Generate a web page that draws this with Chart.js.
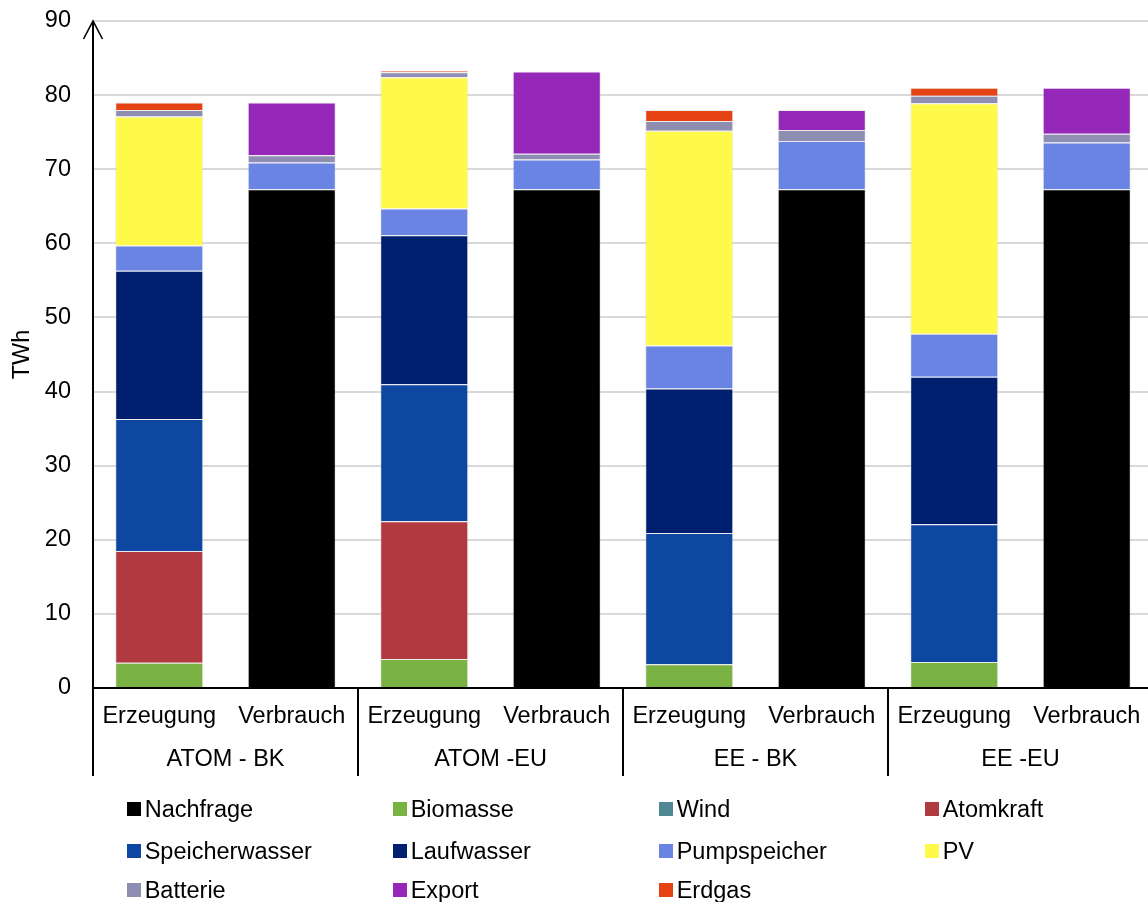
<!DOCTYPE html>
<html>
<head>
<meta charset="utf-8">
<script src="https://cdn.jsdelivr.net/npm/chart.js@4/dist/chart.umd.min.js"></script>
<style>
  html, body { margin: 0; padding: 0; overflow: hidden; background: #fff; width: 1148px; height: 902px; }
  #wrap { position: relative; width: 1153px; height: 902px; }
  canvas { position: absolute; left: 0; top: 0; }
  #legend { position: absolute; left: 0; top: 0; width: 1148px; height: 902px; pointer-events: none;
            font-family: "Liberation Sans", Arial, sans-serif; font-size: 23.5px; color: #000; }
  .item { position: absolute; display: flex; align-items: center; white-space: nowrap; height: 28px; }
  .box { width: 14px; height: 14px; margin-right: 4px; flex: none; }
</style>
</head>
<body>
<div id="wrap">
  <canvas id="c" width="1153" height="902"></canvas>
  <div id="legend"></div>
</div>
<script>
// Scenario groups and the two bars shown for each
const groups = ['ATOM - BK', 'ATOM -EU', 'EE - BK', 'EE -EU'];
const barKinds = ['Erzeugung', 'Verbrauch'];
const barLabels = groups.flatMap(() => barKinds);

// Energy per source in TWh, one entry per bar (Erzeugung, Verbrauch, ...)
const nachfrage      = [null, 67.3, null, 67.3, null, 67.3, null, 67.3];
const biomasse       = [3.4, null, 3.9, null, 3.2, null, 3.5, null];
const wind           = [0, null, 0, null, 0, null, 0, null];
const atomkraft      = [15.1, null, 18.6, null, 0, null, 0, null];
const speicherwasser = [17.8, null, 18.5, null, 17.7, null, 18.6, null];
const laufwasser     = [20.0, null, 20.1, null, 19.5, null, 19.9, null];
const pumpspeicher   = [3.4, 3.6, 3.6, 4.0, 5.8, 6.5, 5.8, 6.3];
const pv             = [17.4, null, 17.7, null, 29.0, null, 31.1, null];
const batterie       = [0.9, 1.0, 0.7, 0.8, 1.3, 1.5, 1.0, 1.2];
const exportTWh      = [null, 7.1, null, 11.1, null, 2.7, null, 6.2];
const erdgas         = [1.0, null, 0.2, null, 1.5, null, 1.1, null];

// Value axis range
const yMin = 0, yMax = 90, yStep = 10;

const FONT = { family: '"Liberation Sans", Arial, sans-serif', size: 23.5 };

const series = [
  ['Nachfrage',      nachfrage,      '#000000'],
  ['Biomasse',       biomasse,       '#7AB244'],
  ['Wind',           wind,           '#4F8895'],
  ['Atomkraft',      atomkraft,      '#B03A40'],
  ['Speicherwasser', speicherwasser, '#0E47A1'],
  ['Laufwasser',     laufwasser,     '#00206F'],
  ['Pumpspeicher',   pumpspeicher,   '#6A84E3'],
  ['PV',             pv,             '#FFF94A'],
  ['Batterie',       batterie,       '#8D8EB2'],
  ['Export',         exportTWh,      '#9528B8'],
  ['Erdgas',         erdgas,         '#E64314']
];

const datasets = series.map(([label, data, color]) => ({
  label, data,
  backgroundColor: color,
  borderColor: 'rgba(200,200,200,0.35)',
  borderWidth: 1,
  categoryPercentage: 1,
  barPercentage: 0.665
}));

// Axis line with arrow head, zero line and group separators below the bars
const frame = {
  id: 'frame',
  afterDraw(chart) {
    const { ctx, chartArea: a, scales: { x, x2 } } = chart;
    ctx.save();
    ctx.strokeStyle = '#000';
    ctx.lineWidth = 2;
    ctx.beginPath();
    ctx.moveTo(a.left, a.bottom);
    ctx.lineTo(a.right, a.bottom);
    ctx.moveTo(a.left, x2.bottom);
    ctx.lineTo(a.left, a.top);
    for (let i = 1; i < groups.length; i++) {
      const px = x.getPixelForValue(i * barKinds.length - 0.5);
      ctx.moveTo(px, a.bottom);
      ctx.lineTo(px, x2.bottom);
    }
    ctx.stroke();
    ctx.lineWidth = 1.6;
    ctx.beginPath();
    ctx.moveTo(a.left - 9.5, a.top + 18);
    ctx.lineTo(a.left, a.top);
    ctx.lineTo(a.left + 9.5, a.top + 18);
    ctx.stroke();
    ctx.restore();
  }
};

const chart = new Chart(document.getElementById('c'), {
  type: 'bar',
  data: { labels: barLabels, datasets },
  options: {
    responsive: false,
    animation: false,
    devicePixelRatio: 1,
    layout: { autoPadding: false, padding: { top: 21, right: 0, bottom: 126, left: 0 } },
    plugins: { legend: { display: false }, tooltip: { enabled: false } },
    scales: {
      x: {
        stacked: true,
        weight: 0,
        grid: { display: false, drawTicks: false },
        border: { display: false },
        ticks: { color: '#000', font: FONT, padding: 14, maxRotation: 0, autoSkip: false },
        afterFit(s) { s.height = 52; s.paddingLeft = 0; s.paddingRight = 0; }
      },
      x2: {
        type: 'category',
        position: 'bottom',
        weight: 1,
        labels: groups,
        offset: true,
        grid: { display: false, drawTicks: false },
        border: { display: false },
        ticks: { color: '#000', font: FONT, padding: 5, maxRotation: 0, autoSkip: false },
        afterFit(s) { s.height = 36; s.paddingLeft = 0; s.paddingRight = 0; }
      },
      y: {
        stacked: true,
        min: yMin, max: yMax,
        ticks: { stepSize: yStep, color: '#000', font: FONT, padding: 22 },
        grid: { color: '#d9d9d9', lineWidth: 2, drawTicks: false },
        border: { display: false },
        title: { display: true, text: 'TWh', color: '#000', font: FONT, padding: { top: 8, bottom: 0 } },
        afterFit(s) { s.width = 93; s.paddingTop = 0; s.paddingBottom = 0; }
      }
    }
  },
  plugins: [frame]
});

// Legend laid out in a four-column grid below the axis labels
const legendEl = document.getElementById('legend');
const colLeft = [126.7, 392.7, 658.7, 924.7];
const rowMid = [809, 851, 890];
chart.data.datasets.forEach((ds, i) => {
  const item = document.createElement('div');
  item.className = 'item';
  item.style.left = colLeft[i % 4] + 'px';
  item.style.top = (rowMid[Math.floor(i / 4)] - 14) + 'px';
  const box = document.createElement('span');
  box.className = 'box';
  box.style.background = ds.backgroundColor;
  const txt = document.createElement('span');
  txt.textContent = ds.label;
  item.appendChild(box);
  item.appendChild(txt);
  legendEl.appendChild(item);
});
</script>
</body>
</html>
